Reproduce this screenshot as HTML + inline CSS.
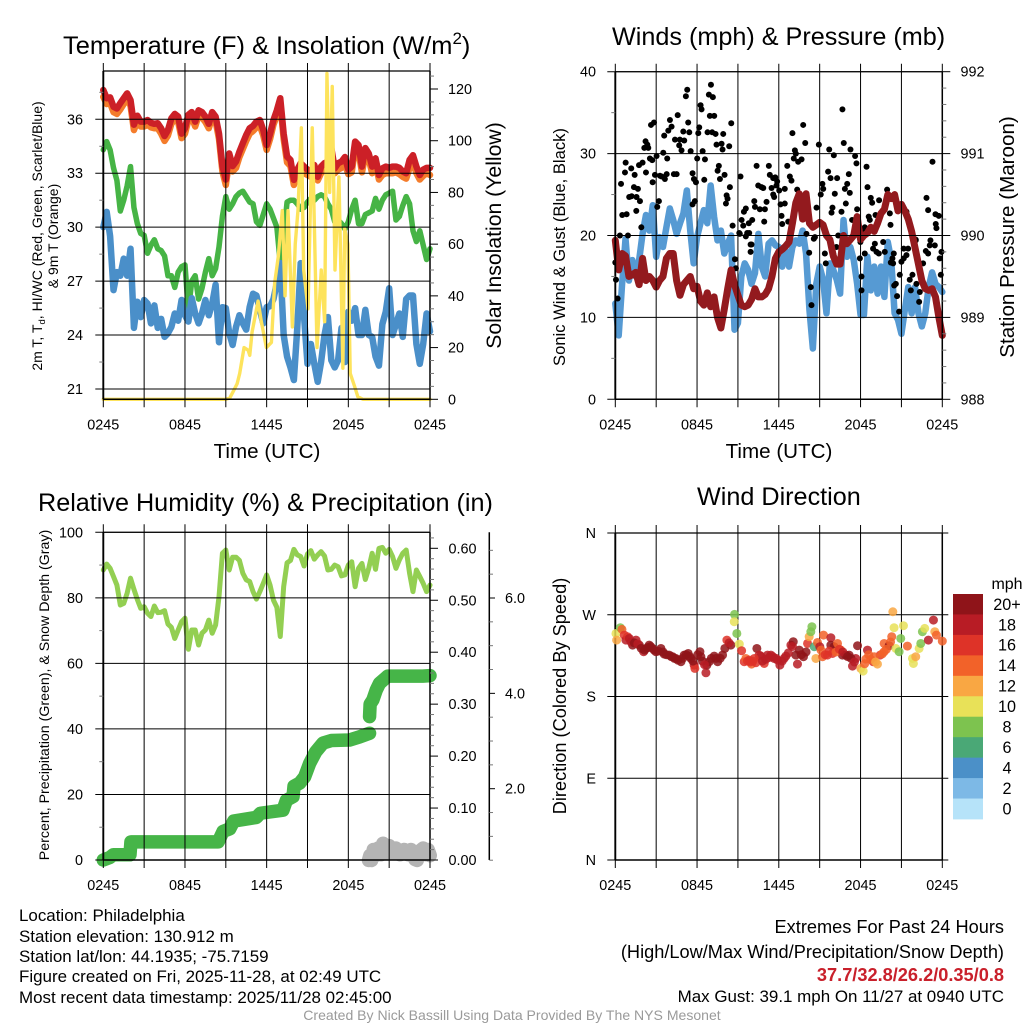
<!DOCTYPE html>
<html lang="en">
<head>
<meta charset="utf-8">
<title>Station Meteogram</title>
<style>
html,body{margin:0;padding:0;background:#fff;width:1024px;height:1024px;overflow:hidden}
svg{display:block;font-family:"Liberation Sans",Arial,sans-serif}
text{fill:#000}
</style>
</head>
<body>
<svg id="chart" xmlns="http://www.w3.org/2000/svg" width="1024" height="1024" viewBox="0 0 1024 1024">
  <text x="63" y="54" font-size="25.4">Temperature (F) &amp; Insolation (W/m<tspan dy="-10" font-size="17">2</tspan><tspan dy="10">)</tspan></text>
  <text x="612" y="45" font-size="25.2">Winds (mph) &amp; Pressure (mb)</text>
  <text x="38" y="511" font-size="25.2">Relative Humidity (%) &amp; Precipitation (in)</text>
  <text x="697" y="505" font-size="25.2">Wind Direction</text>

  <text x="267" y="458" font-size="20.6" text-anchor="middle">Time (UTC)</text>
  <text x="779" y="458" font-size="20.6" text-anchor="middle">Time (UTC)</text>

  <text transform="translate(42,236) rotate(-90)" font-size="14" text-anchor="middle">2m T, T<tspan dy="3" font-size="9.5">d</tspan><tspan dy="-3">, HI/WC (Red, Green, Scarlet/Blue)</tspan></text>
  <text transform="translate(58,236) rotate(-90)" font-size="14" text-anchor="middle">&amp; 9m T (Orange)</text>
  <text transform="translate(501,235.5) rotate(-90)" font-size="21.2" text-anchor="middle">Solar Insolation (Yellow)</text>
  <text transform="translate(565,247) rotate(-90)" font-size="16.6" text-anchor="middle">Sonic Wind &amp; Gust (Blue, Black)</text>
  <text transform="translate(1014,237) rotate(-90)" font-size="20.6" text-anchor="middle">Station Pressure (Maroon)</text>
  <text transform="translate(49,695) rotate(-90)" font-size="14.2" text-anchor="middle">Percent, Precipitation (Green), &amp; Snow Depth (Gray)</text>
  <text transform="translate(566,696) rotate(-90)" font-size="18.2" text-anchor="middle">Direction (Colored By Speed)</text>

  <g id="plots"></g>

  <text x="1007" y="589" font-size="16" text-anchor="middle">mph</text>

  <g font-size="16.95">
    <text x="19" y="921">Location: Philadelphia</text>
    <text x="19" y="942">Station elevation: 130.912 m</text>
    <text x="19" y="962">Station lat/lon: 44.1935; -75.7159</text>
    <text x="19" y="982">Figure created on Fri, 2025-11-28, at 02:49 UTC</text>
    <text x="19" y="1003">Most recent data timestamp: 2025/11/28 02:45:00</text>
  </g>
  <g text-anchor="end">
    <text x="1004" y="933" font-size="18.2">Extremes For Past 24 Hours</text>
    <text x="1004" y="958" font-size="18.2">(High/Low/Max Wind/Precipitation/Snow Depth)</text>
    <text x="1004" y="981" font-size="18.2" font-weight="bold" style="fill:#c9202b">37.7/32.8/26.2/0.35/0.8</text>
    <text x="1004" y="1002" font-size="16.95">Max Gust: 39.1 mph On 11/27 at 0940 UTC</text>
  </g>
  <text x="512" y="1020" font-size="14.05" text-anchor="middle" style="fill:#9a9a9a">Created By Nick Bassill Using Data Provided By The NYS Mesonet</text>
</svg>

<script>
// ---- time axis ----
const timeTickHours = [0, 3, 6, 9, 12, 15, 18, 21, 24];
const timeTickLabels = {0: '0245', 6: '0845', 12: '1445', 18: '2045', 24: '0245'};

// ---- temperature panel (F), one value per 15 minutes ----
const temp2m = [37.63,37.17,37.22,36.7,36.6,36.9,37.17,37.44,37.07,35.7,36.2,35.87,35.87,35.96,35.8,35.75,35.78,35.5,35.07,35.4,36.05,36.3,36.15,35.2,35.5,36.25,36.4,35.87,36.5,36.4,36.15,35.75,36.4,36.15,35.2,33.4,32.65,34.1,33.4,33.65,34.2,34.67,35.13,35.5,35.63,35.87,35.96,35.4,34.57,35.2,35.96,36.5,37.17,35.2,33.93,33.74,32.63,33.2,33.56,33.37,33.2,33.1,33.46,32.8,33.37,33.56,33.65,34.4,33.27,33.56,33.65,33.9,33.2,33.37,34.76,34.57,33.37,34.4,34.1,33.37,33.83,32.9,33.27,33.37,33.3,33.37,33.37,33.3,33.1,33.0,33.74,34.0,33.37,32.9,33.2,33.3,33.3];
const temp9m = [37.25,36.85,36.9,36.4,36.3,36.55,36.85,37.15,36.75,35.4,35.9,35.6,35.6,35.7,35.55,35.5,35.5,35.2,34.8,35.1,35.75,36.0,35.85,34.95,35.2,35.95,36.1,35.6,36.2,36.1,35.85,35.5,36.1,35.9,34.9,33.1,32.35,33.7,33.1,33.3,33.9,34.35,34.8,35.2,35.35,35.55,35.65,35.1,34.3,34.9,35.7,36.2,36.9,34.9,33.6,33.4,32.35,32.85,33.2,33.0,32.9,32.8,33.1,32.6,33.0,33.2,33.3,33.9,33.0,33.2,33.3,33.5,32.95,33.05,34.4,34.2,33.05,34.0,33.8,33.0,33.5,32.65,32.9,33.0,33.0,33.0,33.05,32.95,32.8,32.7,33.3,33.6,33.0,32.65,32.85,33.0,32.9];
const dewPoint = [34.3,34.76,34.3,33.3,32.6,30.9,31.5,32.3,33.37,31.1,30.2,29.65,29.55,28.55,29,29.3,28.8,28.7,28.4,27.3,27.3,26.65,27.5,27.8,27.9,25.4,27,27.3,26,26.6,27.5,28.25,27.3,27.7,28.9,30.6,31.7,31.0,31.3,31.7,31.9,32.0,31.7,31.4,31.3,30.3,30.1,30.7,31.3,31.0,30.5,30.0,28.0,29.5,31.4,31.5,31.5,31.3,31.0,31.1,31.4,31.6,31.5,31.7,31.8,31.7,31.3,31.0,30.3,30.4,30.2,29.9,30.3,31.0,31.5,30.2,30.2,30.7,30.8,30.9,31.6,31.0,31.5,31.8,31.9,32.0,30.4,30.6,31.2,31.7,31.3,29.8,29.2,29.8,29.0,28.2,28.8];
const windChill = [30.0,30.85,29.5,26.5,27.5,27.3,28.25,27.3,28.8,24.4,25.85,25,25.95,25.75,24.65,25.65,24.4,24.9,23.9,24.1,24.45,25.2,24.8,25.95,25.1,24.75,26.05,25.2,24.65,25.2,25.95,25.1,25.75,26.8,23.6,25.55,25.5,24.1,23.45,24.45,25.1,24.65,24.3,25.55,26.3,26.2,25.4,24.65,25.55,25.6,26.0,26.9,28.0,24.0,22.8,22.2,21.5,24.4,28.0,25.0,22.4,23.5,22.4,21.4,22.5,24.0,25.0,22.6,22.2,22.6,24.4,22.5,25.3,24.8,25.5,24.0,24.0,25.4,24.0,23.9,22.8,22.3,24.6,25.3,26.6,24.0,24.6,25.2,23.9,26.0,26.2,26.2,23.5,22.4,23.5,25.2,24.2];
const solarHours = [0,9,9.29,9.54,9.83,10.02,10.34,10.64,10.76,10.93,11.37,11.61,11.98,12.35,12.59,12.85,13.15,13.35,13.57,13.89,14.1,14.3,14.55,14.72,15.04,15.35,15.7,16.01,16.26,16.43,16.63,16.82,17.02,17.31,17.6,17.73,17.97,18.14,18.46,18.7,19.07,24];
const solarValues = [0,0,0.5,3,6,10,20,19,17,26,38,30,20,22,45,55,73,40,73,28,60,73,105,50,35,105,20,50,30,126,80,121,50,86,12,66,60,10,5,1,0,0];
const tempTicks = [36, 33, 30, 27, 24, 21];
const tempMinorTicks = [37.5, 34.5, 31.5, 28.5, 25.5, 22.5];
const solarTicks = [0, 20, 40, 60, 80, 100, 120];
const solarMinorTicks = [5,10,15,25,30,35,45,50,55,65,70,75,85,90,95,105,110,115,125];

// ---- winds panel, one value per 15 minutes ----
const sonicWind = [11.7,7.8,14.1,19.6,14.5,17,15,17,20.2,22.5,20.6,23.7,17.4,19.8,18.6,21,23.3,21.9,20.2,21.5,22.7,25.5,20.6,16.6,19.8,21.5,23.1,21.5,26.1,22.3,19.4,20.6,17.8,19,20,8.5,9.3,15,16.6,15.8,14.1,15.4,20.2,16.2,15,19,19.4,18.8,18.6,16.2,18.2,16.2,18.6,19.4,19,20.6,17.8,10.9,6.2,14.1,16.2,14.6,10.5,16.6,15.8,14.6,12.9,21.9,17.4,18.6,17,14.1,10.3,10.3,17.4,13.3,16.2,12.9,16.2,12.5,19.2,17,10.5,9.7,8,10.9,13.7,10.5,13.7,10.5,8.9,10.5,13.7,15.5,14.1,13.7,13.1];
const pressure = [989.94,989.58,989.78,989.75,989.5,989.52,989.55,989.4,989.72,989.45,989.5,989.45,989.37,989.45,989.5,989.72,989.78,989.78,989.45,989.27,989.4,989.45,989.5,989.35,989.38,989.2,989.15,989.3,989.13,989.25,989.0,988.87,989.1,989.35,989.58,989.4,989.27,989.15,989.13,989.15,989.22,989.35,989.25,989.25,989.28,989.35,989.5,989.72,989.8,989.83,989.87,989.92,990.15,990.4,990.51,990.2,990.51,990.15,990.1,990.13,990.16,990.13,990.0,989.95,989.75,989.65,989.65,990.0,989.9,989.95,990.0,990.23,989.95,990.0,990.03,990.1,990.05,990.15,990.27,990.32,990.5,990.45,990.5,990.3,990.38,990.3,990.2,990.05,989.85,989.65,989.45,989.35,989.33,989.35,989.25,989.0,988.78];
const gustHours = [0.34,0.93,0.42,0.51,0.83,0.71,0.76,1.17,1.42,1.02,1.2,1.37,1.66,1.54,1.56,1.81,1.74,2,1.91,2.25,2.13,2.22,2.35,2.42,2.62,2.84,2.54,2.71,3.03,2.74,2.91,3.08,3.2,3.28,3.52,3.59,3.81,3.4,3.64,3.77,3.89,4.01,4.13,4.3,4.5,4.38,4.74,4.58,4.99,5.35,5.43,4.69,4.86,5.06,5.53,5.18,5.28,5.67,5.77,5.92,5.84,5.67,6.01,6.16,6.09,6.26,6.33,6.41,6.58,6.53,6.77,6.87,7.02,7.16,6.94,7.26,7.11,7.36,7.43,7.8,7.87,7.6,7.51,7.68,8.02,7.92,8.36,8.51,8.41,8.17,8.24,8.12,8.61,0,0.05,0.17,9.19,10.37,11.27,11.34,11.59,11.74,11.88,11.83,10.49,10.73,10.86,11.47,12.03,12.44,11.59,11.66,11.1,10.2,10.25,10.61,10.98,10.93,9.58,9.44,9.27,9.39,9.8,10.05,9.1,9.68,9.58,10,9.93,12.13,12.44,12.2,12.69,12.25,12.62,12.81,12.93,13.35,13,13.79,13.94,13.18,13.25,13.1,13.42,13.67,14.94,15.7,16.04,15.2,15.08,15.26,14.77,15.62,15.8,16.28,16.11,15.94,15.87,16.67,16.77,16.6,17.26,17.6,17.7,17.14,17.02,16.85,17.21,16.92,17.75,17.38,18.44,18.51,18.75,18.85,19.36,19.95,20.15,18.6,18.68,19.1,18.31,18.2,20.2,21.37,22.84,22.96,23.28,23.5,23.74,23.52,23.57,22.05,14.03,14.23,14.35,14.4,14.57,14.65,15.38,15.45,15.99,16.36,16.23,17.95,18.07,18.07,17.99,18.31,19.05,18.92,19.17,19.34,19.66,19.78,20.34,20.44,20.39,20.22,20.59,20.47,20.68,20.88,20.83,21.17,21.49,21.37,21.17,21,21.61,21.81,21.69,22.05,22.1,22.35,22.3,22.59,22.79,23.13,23.08,23.45,22.96,23.94,23.81,23.89,8.78,8.85,9.93,9.83,9.14];
const gustValues = [20,20,26.3,22.5,22.6,27.7,28.9,28.2,27.4,24.7,24.8,25.9,25.7,23,24.7,24.2,28.6,28.9,21,27.7,30.7,31.5,31.1,30.7,33.5,33.8,29.4,29.2,29.7,26.5,27.4,23.5,24.2,27.3,30.1,32.2,29.4,27.2,26.9,27.5,32.8,34.1,33.3,27.5,27.5,31.7,31.7,34.7,32.7,33.8,32.6,31,30.4,31.6,30.3,37,37.8,27.6,26.9,26.5,24.2,23.8,29.4,33.2,32.5,35.9,35.4,30.3,29.3,26.8,32.6,37.2,38.4,36.9,34.6,34.6,32.6,32.4,31.1,31.2,30.5,28.5,27.9,26.9,27.4,32.4,30.9,33.7,25.9,24.9,24.5,23.9,21.2,16.7,14.6,12.3,27.2,28.5,28.5,27.4,27,27.1,26.6,26.1,26.1,25.9,25.8,25.8,25.5,25.7,25,24.7,24.1,24.2,23.5,23.2,23.2,21.7,23.3,22.9,21.9,21.2,21.5,21.9,20.3,20.3,19.9,18.9,18,23.8,23.9,22.4,21.7,21.4,28.5,27.2,26.7,25.6,32.5,33.5,31.3,30.4,30,29.4,29,29.3,31.1,30.5,29.8,26.3,25,25.7,23.4,27.8,27,27,25.1,23.4,22.8,35.4,31.3,22.9,30.5,29.7,28.8,27.5,26.3,25.7,25.2,23.9,23.2,21.9,28.4,25.9,24.6,24,24.3,25.6,22.7,22.3,21.9,22.5,21,20.4,21.3,22.9,24.6,23.1,29,22.6,22.4,21.4,20.9,19.5,20.2,17.9,13.7,11.5,19.6,19.8,17.8,16.6,17.8,20,18.6,17.2,15,13.3,19.2,17.8,19,18.4,18,17.8,19.2,18,17.2,17.8,16.6,16.7,14.1,13.9,12.6,15.2,10.7,18.4,18.4,17.6,17.2,16.8,14.6,15.2,13.3,19.4,14.1,13.1,11.9,16.6,18.1,19.4,18.8,18.8,17.8,18,17.2,15.2,17.1,16,18.9,20.3,20.2];
const windTicks = [40, 30, 20, 10, 0];
const windMinorTicks = [35, 25, 15, 5];
const pressureTicks = [992, 991, 990, 989, 988];
const pressureMinorTicks = [988.2,988.4,988.6,988.8,989.2,989.4,989.6,989.8,990.2,990.4,990.6,990.8,991.2,991.4,991.6,991.8];

// ---- humidity panel ----
const humidity = [88.5,90.3,89,86.5,83.9,77.8,78.3,81.4,86,82.6,79.5,76.8,77.3,75.3,74.3,77.5,75.5,75.6,76.1,72,71,67.6,70.2,72.7,73.8,64.3,70.2,70.2,65.6,69.2,70.2,73.2,69.2,71.7,80.4,93.6,94.6,88.5,92.4,92.4,91.4,87.5,85.5,85,81.9,79.6,81.9,84.4,87,83.9,79.3,77.1,68.2,83.4,90.7,91.4,94.8,93.1,92.6,89.7,93.4,94.4,91.8,93.1,94.1,92.8,88.5,88.7,90,89.5,86.7,87,90,91,83.4,89,90.5,85.6,89,93.6,88.7,95.1,95.4,93.6,94.8,92.6,89,91.6,93.6,94.6,87.5,81.9,88.5,86.5,84.4,81.9,83.9];
const precipHours = [0,0.49,0.73,1.96,2.03,8.44,8.8,9.29,9.58,11.25,11.54,13.2,13.45,13.94,14.01,14.43,14.79,15.16,15.6,16.14,16.75,18.09,18.83,19.56,19.56,19.6,19.8,20.05,20.29,20.9,23.47,24];
const precipValues = [0,0.005,0.01,0.01,0.035,0.035,0.055,0.06,0.075,0.082,0.09,0.096,0.115,0.122,0.142,0.148,0.16,0.186,0.208,0.225,0.23,0.231,0.237,0.244,0.276,0.3,0.308,0.327,0.34,0.354,0.354,0.355];
const snowHours = [19.5,19.6,19.7,19.85,20,20.2,20.4,20.55,20.8,21,21.25,21.5,21.8,22.1,22.4,22.6,22.9,23.05,23.2,23.5,23.7,23.85,24];
const snowValues = [0.5,0.6,0.5,0.72,0.6,0.75,0.62,0.85,0.66,0.8,0.65,0.75,0.62,0.72,0.62,0.72,0.52,0.5,0.68,0.75,0.62,0.72,0.6];
const humidityTicks = [100, 80, 60, 40, 20, 0];
const humidityMinorTicks = [90, 70, 50, 30, 10];
const precipTicks = [0, 0.1, 0.2, 0.3, 0.4, 0.5, 0.6];
const precipMinorTicks = [0.02,0.04,0.06,0.08,0.12,0.14,0.16,0.18,0.22,0.24,0.26,0.28,0.32,0.34,0.36,0.38,0.42,0.44,0.46,0.48,0.52,0.54,0.56,0.58,0.62];
const snowTicks = [2, 4, 6];
const snowMinorTicks = [0.5,1,1.5,2.5,3,3.5,4.5,5,5.5,6.5,7];

// ---- wind direction panel ----
const dirHours = [0.05,0.1,0.37,0.49,0.66,0.78,0.9,1.03,1.27,1.52,1.76,2.08,2.25,2.49,2.74,2.98,3.35,3.59,3.96,4.21,4.45,4.82,5.06,5.35,5.55,5.79,5.84,6.21,6.28,6.65,6.72,6.89,7.26,7.51,7.87,8.04,8.19,8.48,8.75,8.73,8.92,9.1,9.27,9.46,9.58,10,9.83,10.32,10.39,10.56,10.68,10.93,11.17,11.42,11.66,12.08,11.91,12.52,12.89,13.06,13.37,13.5,13.25,13.81,14.11,14.43,14.23,14.35,14.6,14.72,14.84,15.01,15.28,15.21,15.57,15.82,15.82,16.06,15.94,16.31,16.55,16.92,17.16,17.41,17.65,17.78,18.02,18.19,18.51,18.39,18.92,19.24,19.44,19.73,20.1,20.37,20.29,20.46,20.59,20.83,20.95,21.15,21.44,21.81,21.88,22.05,22.3,22.42,22.54,22.71,22.98,23.35,23.45,23.57,24,10.2,16.67,19,19.73,1.15,1.4,1.65,1.9,2.15,2.4,2.6,2.86,3.15,3.5,3.75,4.1,4.33,4.6,4.95,5.2,5.45,5.7,6.05,6.4,6.55,7.05,7.4,7.7,8.35,9.7,9.9,10.1,10.8,11.05,11.3,11.55,11.8,12.25,12.4,12.7,13,13.65,14,15.1,15.4,15.7,16.2,16.45,16.7,17.05,17.3,17.55,18.3,18.6,18.75,19.1,19.6,19.9,20.2];
const dirDegrees = [249.4,242.1,255.7,253.9,247.6,242.1,245.8,243.9,236.6,242.1,236.6,229.3,232.9,236.6,232.9,229.3,232.9,226.7,225.6,223.8,221.9,218.3,225.6,227.4,221.9,214.6,210.9,229.3,223.8,206.1,214.6,218.3,224.5,218.3,225.6,232.9,242.1,236.6,270.4,262.3,249.4,237.7,230.4,218.3,221.9,215.7,220.1,217.2,232.9,225.6,224.5,216.4,225.6,225.6,221.9,214.6,220.1,224.5,236.6,240.3,215.7,231.1,225.6,223.8,238.4,256.8,245.8,251.3,234.8,221.9,239.5,234.8,247.6,223.8,225.6,244.7,236.6,234.8,227.4,238.4,231.1,225.6,225.6,213.5,221.9,235.9,210.9,208,231.1,221.2,218.3,215.7,225.6,238.4,235.9,273.3,245.8,255.7,232.9,229.3,243.9,257.9,235.5,221.9,216.4,223.8,232.9,238.4,251.3,255,242.1,264.1,251.3,247.6,241,221.9,225.6,223.8,229.3,240,239,238,233,231,234,235,231,230,229,226,224,222,220,222,226,224,219,226,219,215,222,222,222,239,219,218,219,219,221,223,224,222,219,222,228,235,226,229,231,226,230,229,232,229,224,222,218,216,226,221,218,227,232,240];
const dirSpeeds = [10,12,8,14,15,18,16,17,19,17,19,17,20,20,20,20,20,20,20,20,20,20,20,20,20,17,16,20,20,18,20,20,20,20,20,20,16,19,8,10,8,10,15,15,14,13,15,16,19,18,17,15,18,17,18,18,17,17,17,19,18,19,19,19,16,8,12,8,6,12,14,18,14,14,15,18,20,19,15,14,14,20,20,18,18,19,11,10,17,14,16,12,15,14,19,12,14,10,10,8,8,10,14,10,10,12,10,8,8,10,17,18,12,14,14,16,20,14,13,18,19,18,20,20,20,20,20,20,20,20,20,20,20,20,20,20,20,20,20,18,20,20,20,18,15,16,15,17,18,18,17,18,18,18,18,18,19,19,13,15,15,14,15,17,20,19,18,13,14,14,12,14,13,14];
const compassTicks = [0, 90, 180, 270, 360];
const compassLabels = ['N', 'E', 'S', 'W', 'N'];
const legendLabels = ['20+', '18', '16', '14', '12', '10', '8', '6', '4', '2', '0'];

const speedColors = ['#b6e3f9','#7db9e6','#4b90c8','#4aa876','#7dc34f','#e8e158','#f9a743','#f26229','#de3328','#b81c25','#8f1419'];
const svgNS = 'http://www.w3.org/2000/svg';
const plots = document.getElementById('plots');

function linear(d0, d1, r0, r1) {
  return function (v) { return r0 + (v - d0) * (r1 - r0) / (d1 - d0); };
}

function mk(tag, name, attrs, parent) {
  const el = document.createElementNS(svgNS, tag);
  
  
  for (const k in attrs) el.setAttribute(k, attrs[k]);
  (parent || plots).appendChild(el);
  return el;
}

function line(name, x1, y1, x2, y2, width, color, parent) {
  return mk('line', name, {x1: x1, y1: y1, x2: x2, y2: y2, stroke: color || '#000', 'stroke-width': width || 1}, parent);
}

function label(name, x, y, text, anchor, parent, size) {
  const t = mk('text', name, {x: x, y: y, 'font-size': size || 14.4, 'text-anchor': anchor || 'middle'}, parent);
  t.textContent = text;
  return t;
}

function series(name, xs, ys, xScale, yScale, color, width, parent, breakAt) {
  let segs = [[]];
  xs.forEach(function (h, i) {
    if (breakAt && i > 0 && Math.abs(ys[i] - ys[i - 1]) > breakAt) segs.push([]);
    segs[segs.length - 1].push(xScale(h).toFixed(2) + ',' + yScale(ys[i]).toFixed(2));
  });
  segs.forEach(function (s) {
    mk('polyline', name, {points: s.join(' '), fill: 'none', stroke: color, 'stroke-width': width, 'stroke-linecap': 'round', 'stroke-linejoin': 'round'}, parent);
  });
}

function quarterHours(values) {
  return values.map(function (_, i) { return i * 24 / (values.length - 1); });
}

function frame(prefix, L, R, T, B, xScale) {
  const g = mk('g', prefix + '-grid', {});
  timeTickHours.forEach(function (h) {
    line(prefix + '-time-gridline', xScale(h), T - 8, xScale(h), B + 8, 1, '#000', g);
    if (timeTickLabels[h]) label(prefix + '-time-label', xScale(h), B + 30, timeTickLabels[h], 'middle', g);
  });
  line(prefix + '-left-axis', L, T, L, B, 1.9, '#000', g);
  line(prefix + '-right-axis', R, T, R, B, 1.5, '#000', g);
  line(prefix + '-top-axis', L, T, R, T, 1.2, '#000', g);
  line(prefix + '-bottom-axis', L, B, R, B, 1.5, '#000', g);
  return g;
}

function rightTicks(prefix, g, R, scale, ticks, minors, fmt, labelX) {
  ticks.forEach(function (v) {
    line(prefix + '-major-tick', R, scale(v), R + 8, scale(v), 1, '#000', g);
    label(prefix + '-tick-label', labelX, scale(v) + 5, fmt(v), 'start', g);
  });
  minors.forEach(function (v) {
    line(prefix + '-minor-tick', R, scale(v), R + 4, scale(v), 1, '#777', g);
  });
}

function leftGrid(prefix, g, L, R, scale, ticks, minors, labelX) {
  ticks.forEach(function (v) {
    line(prefix + '-gridline', L - 8, scale(v), R, scale(v), 1, '#000', g);
    label(prefix + '-tick-label', labelX, scale(v) + 5, String(v), 'end', g);
  });
  minors.forEach(function (v) {
    line(prefix + '-minor-tick', L - 4, scale(v), L, scale(v), 1, '#777', g);
  });
}

// ---------- panel 1: temperature & insolation ----------
(function () {
  const L = 103.3, R = 430, T = 71, B = 399.3;
  const x = linear(0, 24, L, R);
  const yT = linear(36, 21, 119.3, 389);
  const yS = linear(0, 120, B, 89);
  const data = mk('g', 'temperature-series', {});
  const hrs = quarterHours(temp2m);
  series('nine-meter-temperature-line', hrs, temp9m, x, yT, '#f47c2b', 6.5, data);
  series('two-meter-temperature-line', hrs, temp2m, x, yT, '#cc2027', 6.5, data);
  series('dew-point-line', hrs, dewPoint, x, yT, '#46b445', 5.5, data);
  series('wind-chill-line', hrs, windChill, x, yT, '#4a8fc9', 6.5, data);
  series('solar-insolation-line', solarHours, solarValues, x, yS, '#fde35c', 3.4, data);
  const g = frame('temperature', L, R, T, B, x);
  leftGrid('temperature', g, L, R, yT, tempTicks, tempMinorTicks, 83);
  rightTicks('solar', g, R, yS, solarTicks, solarMinorTicks, function (v) { return String(v); }, 448);
})();

// ---------- panel 2: winds & pressure ----------
(function () {
  const L = 615.3, R = 942.3, T = 71.7, B = 399.3;
  const x = linear(0, 24, L, R);
  const yW = linear(0, 40, B, T);
  const yP = linear(988, 992, B, T);
  const data = mk('g', 'wind-series', {});
  series('sonic-wind-line', quarterHours(sonicWind), sonicWind, x, yW, '#569ad3', 6.5, data);
  gustHours.forEach(function (h, i) {
    mk('circle', 'gust-point', {cx: x(h).toFixed(2), cy: yW(gustValues[i]).toFixed(2), r: 3, fill: '#000'}, data);
  });
  series('station-pressure-line', quarterHours(pressure), pressure, x, yP, '#931a1e', 7, data);
  const g = frame('winds', L, R, T, B, x);
  leftGrid('winds', g, L, R, yW, windTicks, windMinorTicks, 596);
  rightTicks('pressure', g, R, yP, pressureTicks, pressureMinorTicks, function (v) { return String(v); }, 960.5);
})();

// ---------- panel 3: humidity, precipitation, snow ----------
(function () {
  const L = 103.3, R = 430, T = 532.3, B = 860;
  const x = linear(0, 24, L, R);
  const yH = linear(0, 100, B, T);
  const yR = linear(0, 0.6, B, 548.3);
  const yS = linear(2, 6, 788.7, 598);
  const data = mk('g', 'humidity-series', {});
  series('relative-humidity-line', quarterHours(humidity), humidity, x, yH, '#93cf52', 5, data);
  series('snow-depth-line', snowHours, snowValues, x, yS, '#b4b4b4', 14, data);
  series('precipitation-line', precipHours, precipValues, x, yR, '#46b548', 13.5, data, 0.028);
  const g = frame('humidity', L, R, T, B, x);
  leftGrid('humidity', g, L, R, yH, humidityTicks, humidityMinorTicks, 83);
  rightTicks('precipitation', g, R, yR, precipTicks, precipMinorTicks, function (v) { return v.toFixed(2); }, 448.5);
  line('snow-axis', 489.3, T, 489.3, B, 1.5, '#000', g);
  snowMinorTicks.forEach(function (v) {
    line('snow-minor-tick', 489.3, yS(v), 493, yS(v), 1, '#777', g);
  });
  snowTicks.forEach(function (v) {
    line('snow-major-tick', 489.3, yS(v), 495, yS(v), 1, '#000', g);
    label('snow-tick-label', 505, yS(v) + 5, v.toFixed(1), 'start', g);
  });
})();

// ---------- panel 4: wind direction ----------
(function () {
  const L = 615.3, R = 942.3, T = 533, B = 860;
  const x = linear(0, 24, L, R);
  const y = linear(0, 360, B, T);
  const data = mk('g', 'wind-direction-series', {});
  const g = frame('direction', L, R, T, B, x);
  compassTicks.forEach(function (v, i) {
    line('direction-gridline', L - 8, y(v), R + 6, y(v), 1, '#000', g);
    label('direction-tick-label', 596, y(v) + 5, compassLabels[i], 'end', g);
  });
  plots.appendChild(data);
  dirHours.forEach(function (h, i) {
    const bin = Math.min(10, Math.round(dirSpeeds[i] / 2));
    mk('circle', 'wind-direction-point', {cx: x(h).toFixed(2), cy: y(dirDegrees[i]).toFixed(2), r: 4.5, fill: speedColors[bin], 'fill-opacity': 0.85}, data);
  });
  const legend = mk('g', 'speed-legend', {});
  const top = 594;
  legendLabels.forEach(function (t, i) {
    mk('rect', 'legend-swatch', {x: 953, y: (top + i * (225 / 11)).toFixed(2), width: 30, height: (225 / 11 + 0.4).toFixed(2), fill: speedColors[10 - i]}, legend);
    label('legend-label', 1007, (top + i * (225 / 11) + 15.8).toFixed(2), t, 'middle', legend, 16.2);
  });
})();
</script>
</body>
</html>
